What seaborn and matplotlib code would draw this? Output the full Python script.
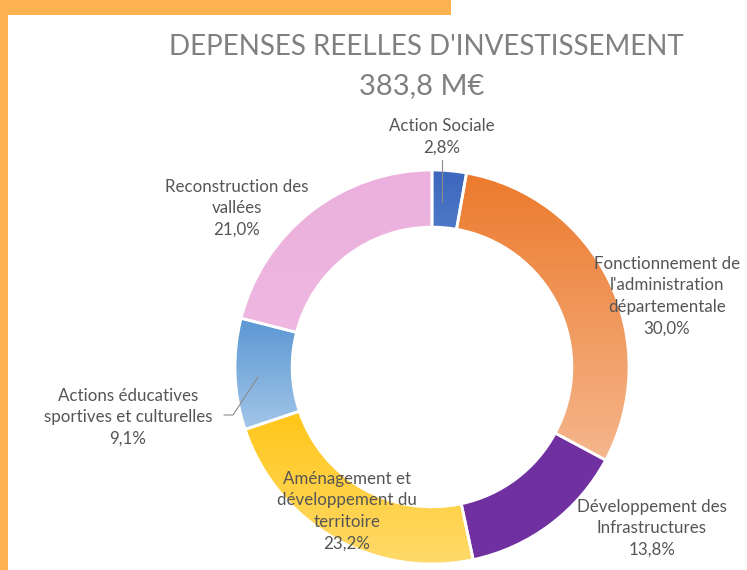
import numpy as np
import matplotlib
matplotlib.use("Agg")
import matplotlib.pyplot as plt
import seaborn as sns
from matplotlib.colors import LinearSegmentedColormap
from matplotlib.patches import Rectangle
from matplotlib.lines import Line2D

# data
categories = [
    "Action Sociale",
    "Fonctionnement de\nl'administration\ndépartementale",
    "Développement des\nInfrastructures",
    "Aménagement et\ndéveloppement du\nterritoire",
    "Actions éducatives\nsportives et culturelles",
    "Reconstruction des\nvallées",
]
shares = [2.8, 30.0, 13.8, 23.2, 9.1, 21.0]
total_label = "383,8 M€"

# styles: gradient top -> bottom for each slice
grad_top = ["#3c67bd", "#ec7a2c", "#7030a0", "#ffc000", "#5a97d3", "#ebb0dd"]
grad_bot = ["#7aa0de", "#f5b68c", "#7030a0", "#ffdb6e", "#a2c6e8", "#efb8e1"]

# label centres in pixels (x, y from top)
label_pos = [(442, 137), (667, 296), (652, 528), (347, 511), (128, 417), (237, 208)]

W, H = 747, 570

sns.set_theme(style="white")
plt.rcParams["font.family"] = ["Lato", "DejaVu Sans"]

fig = plt.figure(figsize=(W / 100, H / 100), dpi=100)
fig.patch.set_facecolor("white")


def px(x, y):
    return x / W, 1 - y / H


# orange frame
fig.patches.append(Rectangle((0, 1 - 15 / H), 451 / W, 15 / H, transform=fig.transFigure,
                             facecolor="#fdb24f", edgecolor="none", zorder=0))
fig.patches.append(Rectangle((0, 0), 8 / W, 1, transform=fig.transFigure,
                             facecolor="#fdb24f", edgecolor="none", zorder=0))

# donut
cx, cy, R = 432, 367, 197
ax = fig.add_axes([(cx - R) / W, (H - cy - R) / H, 2 * R / W, 2 * R / H])
wedges, _ = ax.pie(shares, startangle=90, counterclock=False, radius=1,
                   wedgeprops=dict(width=0.29, edgecolor="white", linewidth=2))

for w, ct, cb in zip(wedges, grad_top, grad_bot):
    verts = w.get_path().vertices
    x0, x1 = verts[:, 0].min(), verts[:, 0].max()
    y0, y1 = verts[:, 1].min(), verts[:, 1].max()
    cmap = LinearSegmentedColormap.from_list("g", [cb, ct])
    grad = np.linspace(0, 1, 256).reshape(-1, 1)
    im = ax.imshow(grad, cmap=cmap, origin="lower", extent=[x0, x1, y0, y1],
                   aspect="auto", zorder=1, interpolation="bilinear")
    im.set_clip_path(w)
    w.set_facecolor("none")
    w.set_zorder(2)

ax.set_xlim(-1, 1)
ax.set_ylim(-1, 1)
ax.set_aspect("equal")
ax.axis("off")

# title
fig.text(*px(426, 47), "DEPENSES REELLES D'INVESTISSEMENT", ha="center", va="center",
         fontsize=20, color="#808080")
fig.text(*px(422, 86), total_label, ha="center", va="center", fontsize=21, color="#808080")

# labels
for name, val, (lx, ly) in zip(categories, shares, label_pos):
    txt = name + "\n" + f"{val:.1f}".replace(".", ",") + "%"
    fig.text(*px(lx, ly), txt, ha="center", va="center", fontsize=12.2,
             color="#555555", linespacing=1.42)

# leader lines
fig.add_artist(Line2D([442 / W, 442 / W], [1 - 160 / H, 1 - 202 / H],
                      transform=fig.transFigure, color="#8c8c8c", lw=0.8))
fig.add_artist(Line2D([224 / W, 233 / W, 258 / W], [1 - 415 / H, 1 - 415 / H, 1 - 377 / H],
                      transform=fig.transFigure, color="#8c8c8c", lw=0.8))

fig.savefig("out.png", dpi=100)
